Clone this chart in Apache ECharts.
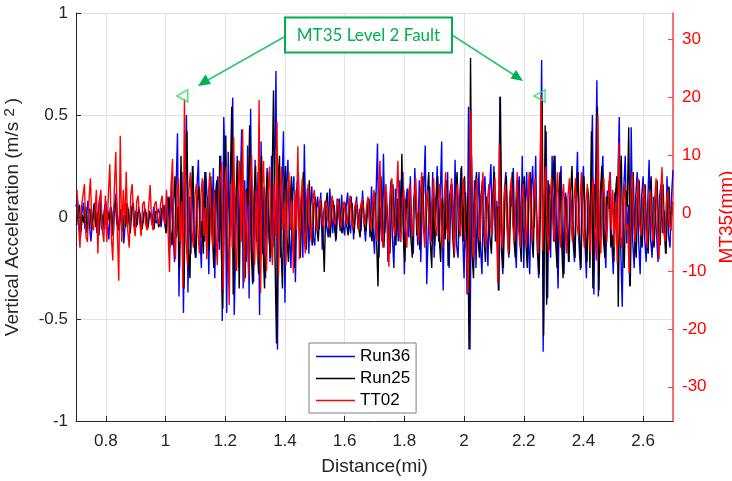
<!DOCTYPE html>
<html><head><meta charset="utf-8">
<script src="https://cdn.jsdelivr.net/npm/echarts@6/dist/echarts.min.js"></script>
<style>html,body{margin:0;padding:0;background:#fff}#c{width:732px;height:481px}</style>
</head><body><div id="c"></div><script>
// sampling grid (mi)
const sampleStep = 0.005;
const run36Start = 0.700, run25Start = 0.7017, tt02Start = 0.7033;
// Run36 vertical acceleration (m/s^2)
const run36 = [
0.05,0.09,-0.03,-0.10,0.02,0.07,-0.06,0.01,0.08,-0.04,-0.12,-0.02,0.06,0.03,-0.08,0.04,0.10,-0.05,-0.07,0.03,
0.08,-0.02,-0.11,0.05,0.03,-0.09,0.06,0.12,-0.04,-0.07,0.02,0.05,-0.13,-0.03,0.07,0.01,-0.06,0.04,0.06,-0.05,
0.03,-0.04,0.05,0.01,-0.05,-0.02,0.04,0.02,-0.06,0.03,0.01,-0.04,0.05,-0.02,-0.03,0.04,0.02,-0.05,0.03,0.06,
-0.05,0.10,0.04,-0.15,0.18,-0.06,-0.22,0.12,0.41,-0.39,0.08,0.22,-0.47,0.15,0.50,-0.37,0.10,-0.18,0.25,-0.12,
-0.20,0.14,0.28,-0.08,-0.25,0.18,-0.12,0.22,0.06,-0.28,0.15,-0.05,0.24,-0.30,0.10,0.20,-0.16,0.30,-0.51,0.49,
0.20,-0.47,0.32,-0.10,0.25,0.585,-0.48,-0.15,0.30,-0.25,0.12,0.43,-0.35,0.18,-0.22,0.35,-0.40,0.53,-0.20,-0.32,
0.28,-0.12,0.22,-0.48,0.37,-0.18,0.15,-0.30,0.24,0.08,-0.22,0.30,-0.15,0.20,0.716,-0.65,0.25,-0.20,0.12,0.42,
-0.42,0.15,0.28,-0.10,-0.25,0.12,0.20,-0.32,0.06,0.22,-0.15,0.10,-0.20,0.356,-0.08,0.14,-0.18,0.05,0.15,-0.10,
-0.14,0.04,0.10,-0.06,0.12,-0.16,0.02,0.08,-0.05,-0.10,0.14,0.03,-0.08,0.06,-0.12,0.09,0.02,-0.07,0.11,-0.04,
-0.09,0.05,0.12,-0.03,-0.08,0.07,-0.11,0.02,0.10,-0.06,0.04,-0.07,0.13,-0.02,-0.12,0.06,0.08,-0.10,0.15,-0.05,
-0.18,0.10,0.36,-0.20,0.05,-0.12,0.31,-0.08,0.12,-0.22,0.04,0.18,-0.10,-0.25,0.14,0.02,-0.12,0.18,-0.05,0.22,
-0.28,0.08,0.14,-0.10,0.20,-0.06,-0.18,0.24,0.03,-0.14,0.18,-0.22,0.06,0.12,0.35,-0.33,-0.08,0.15,-0.12,0.22,
-0.20,0.05,0.25,-0.12,0.08,0.37,-0.36,0.14,-0.06,0.22,-0.25,0.04,0.16,-0.10,0.28,-0.14,-0.20,0.08,0.24,-0.06,
-0.30,0.12,-0.38,0.54,-0.65,0.30,-0.10,0.18,-0.25,0.06,0.22,-0.14,-0.28,0.10,0.20,-0.05,-0.24,0.12,0.26,-0.08,
0.25,-0.12,0.08,-0.36,0.59,-0.16,-0.28,0.12,0.22,-0.04,-0.20,0.13,0.05,0.24,-0.11,-0.25,0.10,0.20,-0.14,0.30,
-0.25,0.06,0.22,-0.12,-0.28,0.14,0.25,-0.05,0.30,-0.15,-0.30,0.10,0.77,-0.66,0.20,0.42,-0.40,0.16,-0.20,0.30,
-0.12,0.30,-0.08,-0.35,0.14,0.25,-0.13,-0.28,0.12,0.05,-0.22,0.14,0.06,-0.12,-0.22,0.10,0.32,-0.13,-0.26,0.12,
0.25,-0.12,-0.30,0.14,-0.08,0.16,0.50,-0.38,0.12,0.67,-0.39,-0.10,0.15,0.30,-0.12,-0.25,0.13,0.04,0.22,-0.12,
-0.28,0.12,-0.05,0.15,0.49,-0.16,-0.44,0.14,0.30,-0.13,0.06,-0.34,0.44,-0.12,-0.25,0.10,0.22,-0.12,-0.28,0.10,
0.20,-0.10,-0.22,0.05,0.28,-0.11,-0.20,0.10,0.04,-0.09,-0.22,0.10,0.16,-0.08,0.03,-0.18,0.20,-0.09,-0.15,0.10,0.23
];
// Run25 vertical acceleration (m/s^2)
const run25 = [
-0.04,0.02,0.06,-0.07,0.01,-0.03,0.05,-0.08,0.03,0.04,-0.06,-0.01,0.07,-0.05,0.02,-0.09,0.04,0.01,-0.04,0.06,
-0.06,0.03,-0.02,0.05,-0.09,0.04,0.08,-0.03,-0.06,0.02,0.04,-0.07,0.01,-0.05,0.06,0.02,-0.08,0.03,0.07,-0.04,
-0.05,0.02,0.03,-0.04,-0.06,0.01,0.04,-0.03,-0.05,0.02,0.01,-0.04,-0.06,0.03,0.02,-0.05,-0.03,0.04,0.05,-0.02,
-0.08,0.04,0.10,-0.06,-0.14,0.06,0.20,-0.10,0.05,-0.25,0.30,-0.12,-0.35,0.14,0.42,-0.15,-0.30,0.10,0.25,-0.12,
-0.20,0.08,0.15,-0.10,-0.02,-0.18,0.22,-0.12,0.10,-0.16,0.20,-0.08,-0.25,0.10,0.18,-0.12,0.30,-0.15,-0.45,0.14,
0.40,-0.14,-0.30,0.15,0.54,-0.38,-0.10,0.14,0.28,-0.35,0.12,0.32,-0.16,-0.30,0.14,0.06,0.45,-0.15,-0.33,0.12,
0.25,-0.12,-0.28,0.14,0.30,-0.15,-0.35,0.12,0.22,-0.10,-0.20,0.15,0.62,-0.20,-0.62,0.16,0.30,-0.14,-0.35,0.12,
0.25,-0.10,-0.22,0.04,0.20,-0.12,-0.25,0.08,0.18,-0.02,-0.20,0.08,0.22,-0.09,-0.16,0.07,0.18,-0.08,-0.14,0.06,
0.10,-0.05,-0.12,0.04,0.08,-0.06,-0.27,0.05,0.12,-0.04,-0.10,0.05,0.08,-0.06,-0.11,0.04,0.09,-0.05,-0.08,0.04,
0.07,-0.04,-0.09,0.05,0.10,-0.04,-0.08,0.03,0.06,-0.05,-0.10,0.04,0.08,-0.05,-0.07,0.04,0.09,-0.06,-0.12,0.06,
0.12,-0.10,-0.34,0.12,0.20,-0.06,-0.15,0.10,0.05,-0.12,-0.18,0.08,0.16,-0.04,-0.14,0.09,0.02,-0.12,0.31,-0.10,
-0.22,0.09,0.04,0.14,-0.10,-0.20,0.08,0.15,-0.09,0.02,-0.16,0.10,0.20,-0.08,-0.06,0.10,0.22,-0.11,-0.25,0.09,
-0.14,0.08,0.20,-0.10,-0.22,0.09,0.05,-0.11,0.18,-0.24,0.10,0.16,-0.09,-0.20,0.10,0.22,-0.10,-0.05,0.25,-0.12,
0.20,-0.15,0.10,-0.65,0.78,-0.18,-0.30,0.12,0.22,-0.10,-0.20,0.10,0.18,-0.09,-0.22,0.10,0.04,-0.10,-0.18,0.09,
0.22,-0.12,0.05,-0.36,0.59,-0.14,-0.25,0.10,0.20,-0.09,-0.18,0.10,0.22,-0.10,-0.20,0.09,0.18,-0.10,-0.22,0.10,
0.20,-0.10,-0.25,0.11,0.22,-0.09,-0.20,0.12,0.05,-0.13,-0.28,0.15,0.57,-0.58,0.45,-0.43,0.18,-0.16,0.08,0.14,
0.30,-0.12,-0.25,0.10,0.22,-0.12,-0.30,0.10,0.05,-0.10,-0.22,0.11,0.25,-0.09,-0.20,0.10,0.22,-0.11,-0.25,0.10,
0.20,-0.10,-0.22,0.12,-0.25,0.42,-0.35,0.16,-0.05,0.54,-0.36,0.12,0.25,-0.10,-0.20,0.10,0.06,0.18,-0.15,-0.09,
-0.22,0.10,0.20,-0.44,0.14,0.30,-0.12,-0.25,0.13,0.05,0.44,-0.34,0.12,0.22,-0.10,-0.20,0.09,0.18,-0.08,-0.15,
0.08,0.16,-0.09,-0.18,0.08,0.20,-0.10,-0.15,0.07,0.18,-0.08,-0.14,0.07,0.16,-0.08,-0.18,0.08,0.15,-0.07,0.05
];
// TT02 MT35 (mm)
const tt02 = [
4,-2,-6,1,3,5,-4,-5,2,6,-2,-3,0,4,-7,2,4,-3,-5,3,
-5,3,8.4,-4,-8.2,4,10.5,-3,-11.7,13.3,-5,4,-2,7.1,-3,-6,3,5,-2,-4,
2,3,-1.5,-4,1.5,2,-2,-3,1,4.8,-1.5,-3,1.5,2,-1,-2,1.5,3,-1,-2,
4,-3,-10.2,4,9.3,-4,-8,3,6,-5,2,-12.8,19.6,-4,-9,4,7,-3,-6,3,
5,-3,-7,3,6,-4,1,-8,3,7,-3,-6,4,-3,-9,3,6,8.8,-13.3,4,
8,-4,-15.9,5,-6,13.1,-5,-10,4,9,-5,14.4,-12,4,-4,-11,5,10,-4,-9,
4,-8,19.5,-13.8,4,9,-4,-10,3,8,-4,-9,5,-4,15.7,-11,3,8,-3,2,
-9,3,7,-3,2,-10.4,4,-3,11.5,-8,2,6,-3,-7,2,5,-2,-5,2,4,
-2,-3,1,2.5,-1,-2.4,1.2,2,-1,-2.8,1,3,-1.2,-2,1,2.2,-1,-2.5,1,2,
-1,-2,1,3,-1.2,-2.6,1,2,-1,-3,1.2,2.4,-1,-2,1,2.8,-1.2,-3,1.5,4,
-2,-5,2,9,-3,-6,2,5,-2,-9.3,3,6,-2,-4,2,9,-3,-5,2,4,
-2,-6,2,5,-2,-4,2,6,-2,-5,3,7,-2,-6,2,4,-2,-5,2,6,
-2,-4,2,5,-2,-6,2,7,-3,-5,2,6,-2,-7,3,5,-2,-4,2,6,
-3,-6,-13.9,4,17.7,-4,-8,3,6,-2,-5,2,7,-3,-6,2,5,-2,-4,2,
6,-2,-12.1,12,-3,-6,2,5,-2,-7,3,6,-2,-5,2,7,-3,-6,2,5,
-2,-6,2,7,-2,-5,2,6,-3,-7,3,20.3,-6.4,3,8,-3,-7,3,6,-2,
-5,2,7,-3,-6,2,5,-2,-7,3,6,-2,-5,2,6,-2,-4,2,7,-3,
-6,2,5,-2,-7,3,6,-3,-8.2,16.8,-4,-7,3,6,-2,-5,2,7,-3,4,
-6,2,-8.7,12.2,-4,-6,2,5,-3,-2,-10.4,3,7,-2,-5,2,6,-2,-4,2,
5,-2,-6,2,4,-2,-5,2,6,-3,-8,3,7.9,-3,-5,2,4,-2,-3,2
];
// MT35 level 2 fault locations
const faultDistance = [1.056, 2.253];
const faultMarkLevel = [20.2, 20.2];
const seriesNames = ['Run36','Run25','TT02'];

function pairs(start, vals){ return vals.map((v,i)=>[+(start + i*sampleStep).toFixed(4), v]); }

const font = '"Liberation Sans", Arial, sans-serif';
const ink = '#262626';
const chart = echarts.init(document.getElementById('c'), null, {renderer:'canvas'});
chart.setOption({
  animation:false,
  backgroundColor:'#fff',
  grid:{left:76, right:59, top:13, bottom:60, containLabel:false, outerBoundsMode:'none'},
  xAxis:{
    type:'value', min:0.7, max:2.7, splitNumber:10,
    name:'Distance(mi)', nameLocation:'middle', nameGap:36,
    nameTextStyle:{fontFamily:font, fontSize:19, color:ink},
    axisLine:{onZero:false, lineStyle:{color:ink}},
    axisTick:{inside:true, length:5, lineStyle:{color:ink}},
    axisLabel:{showMinLabel:false, showMaxLabel:false, fontFamily:font, fontSize:17, color:ink, margin:12},
    splitLine:{show:true, lineStyle:{color:'#e2e2e2'}}
  },
  yAxis:[{
    type:'value', position:'left', min:-1, max:1, interval:0.5,
    name:'Vertical Acceleration (m/s {sup|2})', nameLocation:'middle', nameGap:45, nameRotate:90,
    nameTextStyle:{fontFamily:font, fontSize:19, color:ink,
      rich:{sup:{fontFamily:font, fontSize:15, color:ink, verticalAlign:'top', lineHeight:12, padding:[0,4,10,0]}}},
    axisLine:{show:true, onZero:false, lineStyle:{color:ink}},
    axisTick:{inside:true, length:5, lineStyle:{color:ink}},
    axisLabel:{fontFamily:font, fontSize:17, color:ink, margin:8},
    splitLine:{show:true, lineStyle:{color:'#e2e2e2'}}
  },{
    type:'value', position:'right', min:-35.9, max:34.5, splitNumber:7,
    name:'MT35(mm)', nameLocation:'middle', nameGap:41, nameRotate:90,
    nameTextStyle:{fontFamily:font, fontSize:19, color:'#ff0000'},
    axisLine:{show:true, onZero:false, lineStyle:{color:'#ff4040', width:1.5}},
    axisTick:{inside:true, length:5, lineStyle:{color:'#ff4040'}},
    axisLabel:{showMinLabel:false, showMaxLabel:false, fontFamily:font, fontSize:17, color:'#ff0000', margin:9},
    splitLine:{show:false}
  }],
  legend:{
    data:seriesNames, orient:'vertical', left:309, top:343,
    icon:'rect', itemWidth:39, itemHeight:1.5, itemGap:5, padding:[5,6,4,7],
    backgroundColor:'#fff', borderColor:'#7f7f7f', borderWidth:1, borderRadius:0,
    textStyle:{fontFamily:font, fontSize:17, color:'#000', lineHeight:17}
  },
  series:[
    {name:'Run36', type:'line', yAxisIndex:0, data:pairs(run36Start, run36), symbol:'none', showSymbol:false,
     color:'#0000ff', lineStyle:{width:1.4, color:'#0000ff'}},
    {name:'Run25', type:'line', yAxisIndex:0, data:pairs(run25Start, run25), symbol:'none', showSymbol:false,
     color:'#000000', lineStyle:{width:1.4, color:'#000000'}},
    {name:'TT02', type:'line', yAxisIndex:1, data:pairs(tt02Start, tt02), symbol:'none', showSymbol:false,
     color:'#ff0000', lineStyle:{width:1.4, color:'#ff0000'}},
    {name:'fault', type:'scatter', yAxisIndex:1, data:faultDistance.map((d,i)=>[d, faultMarkLevel[i]]),
     symbol:'triangle', symbolRotate:90, symbolSize:[12,11], z:5,
     itemStyle:{color:'rgba(255,255,255,0)', borderColor:'#22e04a', borderWidth:1.5}}
  ],
  graphic:[
    {type:'line', shape:{x1:284, y1:37, x2:208, y2:80}, style:{stroke:'#2bc46a', lineWidth:1.5}, z:100},
    {type:'polygon', shape:{points:[[198,86],[211,84],[205.5,74.5]]}, style:{fill:'#00b050'}, z:100},
    {type:'line', shape:{x1:452, y1:35, x2:514, y2:75}, style:{stroke:'#2bc46a', lineWidth:1.5}, z:100},
    {type:'polygon', shape:{points:[[523,81],[510.5,78.6],[516,70]]}, style:{fill:'#00b050'}, z:100},
    {type:'rect', shape:{x:285, y:17.5, width:167, height:35}, style:{fill:'#fff', stroke:'#00b050', lineWidth:2}, z:101},
    {type:'text', x:368.5, y:35.5, z:102,
     style:{text:'MT35 Level 2 Fault', fill:'#00b050', font:'17px Lato, "Open Sans", sans-serif', align:'center', verticalAlign:'middle'}}
  ]
});
</script></body></html>
